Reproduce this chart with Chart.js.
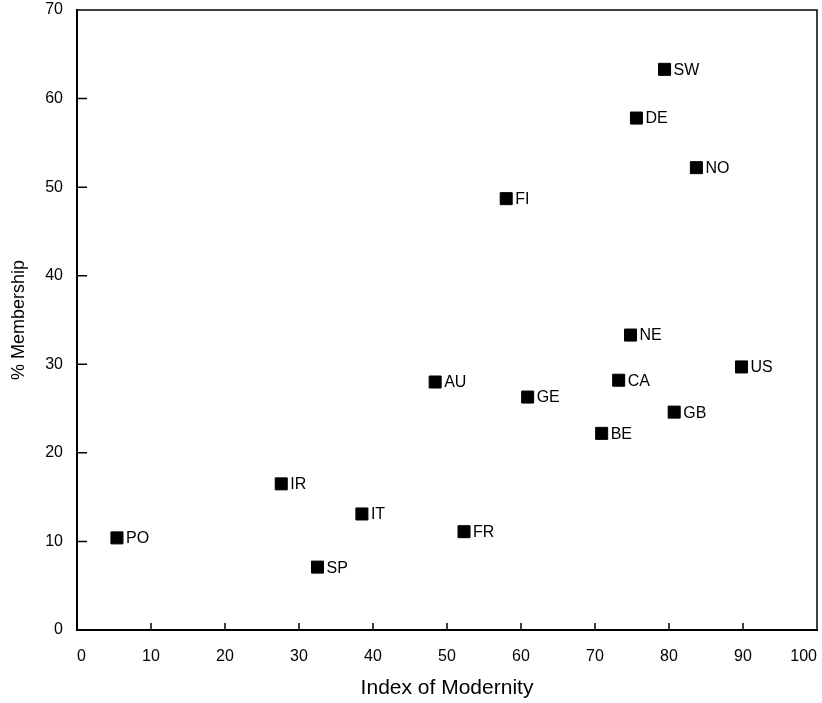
<!DOCTYPE html>
<html>
<head>
<meta charset="utf-8">
<script src="https://cdn.jsdelivr.net/npm/chart.js@4.4.1/dist/chart.umd.min.js"></script>
<style>
  html, body { margin: 0; padding: 0; background: #fff; overflow: hidden; }
  #wrap { position: relative; width: 822px; height: 703px; }
  #grafico { display: block; }
</style>
</head>
<body>
<div id="wrap"><canvas id="grafico"></canvas></div>
<script>
// Datos
const countries = ["SW", "DE", "NO", "FI", "NE", "US", "AU", "CA", "GE", "GB", "BE", "IR", "IT", "FR", "PO", "SP"];
const modernity = [79.4, 75.6, 83.7, 58.0, 74.8, 89.8, 48.4, 73.2, 60.9, 80.7, 70.9, 27.6, 38.5, 52.3, 5.4, 32.5];
const membership = [63.3, 57.8, 52.2, 48.7, 33.3, 29.7, 28.0, 28.2, 26.3, 24.6, 22.2, 16.5, 13.1, 11.1, 10.4, 7.1];
const xTicks = [0, 10, 20, 30, 40, 50, 60, 70, 80, 90, 100];
const yTicks = [0, 10, 20, 30, 40, 50, 60, 70];

const FONT = "'Liberation Sans', Arial, sans-serif";

const points = modernity.map((x, i) => ({ x, y: membership[i] }));

// Etiquetas de país a la derecha de cada cuadrado
const pointLabels = {
  id: "pointLabels",
  afterDatasetsDraw(chart){
    const { ctx } = chart;
    const meta = chart.getDatasetMeta(0);
    ctx.save();
    ctx.font = `16px ${FONT}`;
    ctx.fillStyle = "#000";
    ctx.textBaseline = "middle";
    ctx.textAlign = "left";
    meta.data.forEach((pt, i) => {
      ctx.fillText(countries[i], pt.x + 9, pt.y + 1);
    });
    ctx.restore();
  }
};

// Marco superior/derecho y marcas hacia dentro
const frame = {
  id: "frame",
  afterDraw(chart){
    const { ctx, chartArea: a } = chart;
    const xs = chart.scales.x, ys = chart.scales.y;
    ctx.save();
    ctx.strokeStyle = "#000";
    ctx.lineWidth = 1.5;
    ctx.beginPath();
    ctx.moveTo(a.left, a.top);
    ctx.lineTo(a.right, a.top);
    ctx.lineTo(a.right, a.bottom);
    ctx.stroke();
    ctx.beginPath();
    xs.ticks.forEach(t => {
      if (t.value === 0 || t.value === 100) return;
      const px = xs.getPixelForValue(t.value);
      ctx.moveTo(px, a.bottom);
      ctx.lineTo(px, a.bottom - 7);
    });
    ys.ticks.forEach(t => {
      if (t.value === 0 || t.value === 70) return;
      const py = ys.getPixelForValue(t.value);
      ctx.moveTo(a.left, py);
      ctx.lineTo(a.left + 10, py);
    });
    ctx.stroke();
    ctx.restore();
  }
};

const ctx = document.getElementById("grafico").getContext("2d");
new Chart(ctx, {
  type: "scatter",
  data: {
    datasets: [{
      data: points,
      pointStyle: "rect",
      pointRadius: 8.5,
      pointHoverRadius: 8.5,
      backgroundColor: "#000",
      borderColor: "#000",
      borderWidth: 1
    }]
  },
  options: {
    responsive: true,
    maintainAspectRatio: false,
    animation: false,
    events: [],
    layout: { autoPadding: false, padding: { top: 10, right: 5, bottom: 0, left: 0 } },
    plugins: { legend: { display: false }, tooltip: { enabled: false } },
    scales: {
      x: {
        type: "linear",
        min: 0, max: 100,
        afterBuildTicks: s => { s.ticks = xTicks.map(v => ({ value: v })); },
        afterFit: s => { s.height = 73; s.paddingLeft = 0; s.paddingRight = 0; },
        grid: { display: false, drawTicks: false },
        border: { display: true, color: "#000", width: 2 },
        ticks: { color: "#000", padding: 17, align: "inner", font: { family: FONT, size: 16 } },
        title: {
          display: true, text: "Index of Modernity", color: "#000",
          font: { family: FONT, size: 21 }, padding: { top: 0, bottom: 2 }
        }
      },
      y: {
        type: "linear",
        min: 0, max: 70,
        afterBuildTicks: s => { s.ticks = yTicks.map(v => ({ value: v })); },
        afterFit: s => { s.width = 77; s.paddingTop = 0; s.paddingBottom = 0; },
        grid: { display: false, drawTicks: false },
        border: { display: true, color: "#000", width: 2 },
        ticks: { color: "#000", padding: 14, font: { family: FONT, size: 16 } },
        title: {
          display: true, text: "% Membership", color: "#000",
          font: { family: FONT, size: 18 }, padding: { top: 8, bottom: 0 }
        }
      }
    }
  },
  plugins: [pointLabels, frame]
});
</script>
</body>
</html>
